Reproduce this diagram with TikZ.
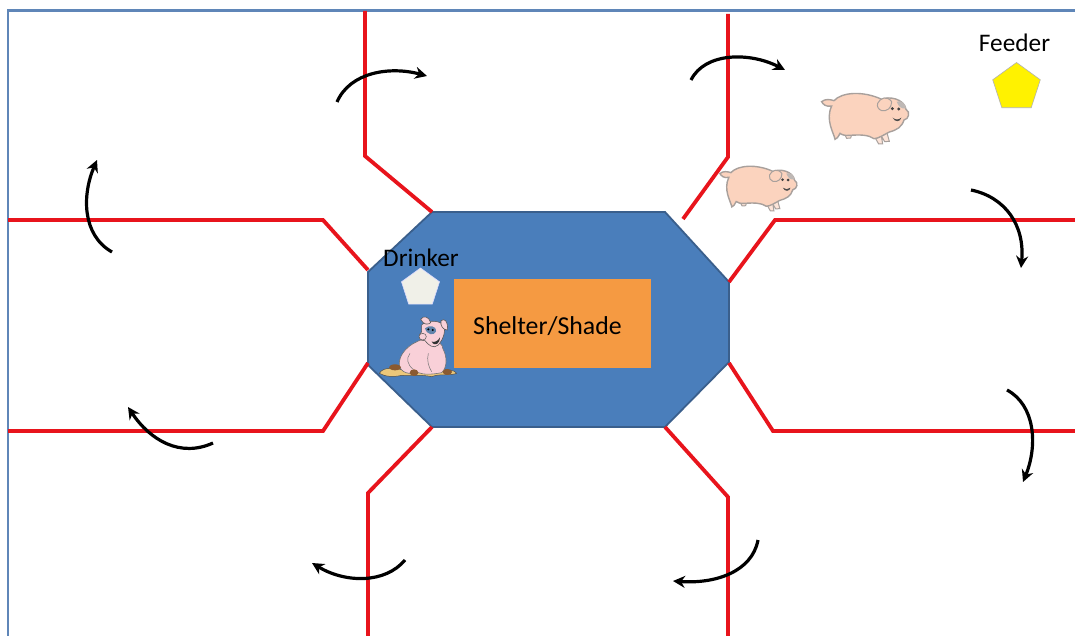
\documentclass[tikz,border=0pt]{standalone}
\usepackage{fontspec}
\setmainfont{Carlito}
\usetikzlibrary{arrows.meta,shapes.geometric}
\definecolor{frameblue}{HTML}{5F86B8}
\definecolor{penblue}{HTML}{4A7EBB}
\definecolor{penedge}{HTML}{3A5F8C}
\definecolor{shelter}{HTML}{F59A42}
\definecolor{fence}{HTML}{E8141C}
\definecolor{pigskin}{HTML}{FBD3BE}
\definecolor{pigedge}{HTML}{A8A09C}
\definecolor{pinkpig}{HTML}{F9D0D8}
\definecolor{mud}{HTML}{EBC77A}
\definecolor{hoof}{HTML}{8A5A30}
\definecolor{drinkerfill}{HTML}{F0F0E8}
\tikzset{
  frameline/.style={draw=frameblue,line width=2.2pt},
  fenceline/.style={draw=fence,line width=3.8pt,line join=miter},
  turn/.style={draw=black,line width=3.2pt,-{Stealth[length=12pt,width=12pt]}},
  label/.style={font=\fontsize{25.8}{28}\selectfont,inner sep=0pt,text=black},
  smalllabel/.style={font=\fontsize{25.3}{28}\selectfont,inner sep=0pt,text=black},
  pent/.style={regular polygon,regular polygon sides=5,inner sep=0pt}
}
% walking pig, drawn in a local frame 3 units per reference pixel
\newcommand{\walkpig}[3]{%
 \begin{scope}[shift={(#1,#2)},x=#3/3*1pt,y=-#3/3*1pt]
  \fill[pigskin!60!white,draw=pigedge,line width=1pt] (518,190) -- (536,222) -- (548,222) -- (544,198) -- (554,215) -- (568,214) -- (560,185) -- cycle;
  \fill[pigskin!60!white,draw=pigedge,line width=1pt] (432,190) -- (440,205) -- (452,204) -- (456,190) -- cycle;
  \fill[pigskin,draw=pigedge,line width=1.4pt] (395,108) .. controls (378,112) and (368,102) .. (365,95) .. controls (375,86) and (390,88) .. (402,92)
    .. controls (425,66) and (490,62) .. (545,88) .. controls (565,78) and (612,85) .. (618,118)
    .. controls (632,126) and (626,148) .. (612,150) .. controls (605,172) and (590,180) .. (568,186)
    .. controls (552,194) and (535,206) .. (522,206) .. controls (505,194) and (480,194) .. (450,196)
    .. controls (435,198) and (425,194) .. (420,190) .. controls (415,200) and (410,208) .. (405,208)
    .. controls (402,190) and (375,150) .. (395,108) -- cycle;
  \fill[pigskin,draw=pigedge,line width=1pt] (533,100) .. controls (540,85) and (560,75) .. (575,95) .. controls (575,115) and (560,125) .. (545,122) .. controls (535,118) and (530,110) .. (533,100) -- cycle;
  \fill[pigedge!75!white] (590,95) .. controls (605,90) and (615,100) .. (618,115) .. controls (605,118) and (595,110) .. (590,95) -- cycle;
  \fill[black!75] (577,116) circle[radius=5] (596,117) circle[radius=5];
  \fill[black!70] (578,143) .. controls (586,150) and (596,150) .. (604,143) .. controls (602,156) and (584,158) .. (578,143) -- cycle;
 \end{scope}}
\begin{document}
\begin{tikzpicture}[x=1pt,y=-1pt]
\useasboundingbox (0,0) rectangle (1075,636);
\fill[white] (0,0) rectangle (1075,636);
% paddock frame
\draw[frameline] (8,636) -- (8,10.5) -- (1075,10.5);
% central pen
\fill[penblue,draw=penedge,line width=1.8pt] (432,212) -- (665,212) -- (729,282) -- (729,362) -- (665,427) -- (432,427) -- (368,365) -- (368,272) -- cycle;
\node[draw=none,fill=shelter,minimum width=197pt,minimum height=89pt,inner sep=0pt,anchor=north west] (shelter) at (454,279) {};
\node[label,anchor=west] (shelterlabel) at (473,326) {Shelter/Shade};
% fences
\draw[fenceline] (365,11) -- (365,156) -- (432,212);
\draw[fenceline] (728,14) -- (728,157) -- (683,219);
\draw[fenceline] (1075,220) -- (775,220) -- (729,282);
\draw[fenceline] (1075,431) -- (773,431) -- (729,363);
\draw[fenceline] (728,636) -- (728,497) -- (665,427);
\draw[fenceline] (368,636) -- (368,493) -- (432,427);
\draw[fenceline] (8,431) -- (323,431) -- (368,363);
\draw[fenceline] (8,220) -- (323,220) -- (368,270);
% rotation arrows
\draw[turn] (337,102) .. controls (350,72) and (390,66) .. (427,76);
\draw[turn] (691,80) .. controls (705,52) and (750,52) .. (785,70);
\draw[turn] (971,190) .. controls (1005,197) and (1025,225) .. (1021,268);
\draw[turn] (1007,390) .. controls (1035,405) and (1038,445) .. (1023,482);
\draw[turn] (758,540) .. controls (752,572) and (715,584) .. (673,581);
\draw[turn] (405,560) .. controls (385,584) and (345,583) .. (312,563);
\draw[turn] (213,443) .. controls (180,458) and (150,440) .. (128,407);
\draw[turn] (112,252) .. controls (82,235) and (82,195) .. (97,160);
% feeder and drinker
\node[pent,fill=yellow,draw=black!30,line width=.6pt,minimum size=50pt] (feeder) at (1016.5,87.5) {};
\node[smalllabel] (feederlabel) at (1014.5,43) {Feeder};
\node[pent,fill=drinkerfill,draw=white!85!blue,line width=.6pt,minimum size=40pt] (drinker) at (420.5,288) {};
\node[smalllabel] (drinkerlabel) at (421,258) {Drinker};
% walking pigs
\walkpig{700}{70}{1}
\walkpig{612.3}{145.5}{0.885}
% sitting pig in the mud
\begin{scope}[shift={(360,230)},x=1/3*1pt,y=-1/3*1pt]
 \fill[mud,draw=black!70,line width=.5pt] (58,430) .. controls (70,408) and (110,415) .. (130,420) -- (240,418) .. controls (260,418) and (285,420) .. (290,430) .. controls (270,438) and (240,430) .. (215,440) .. controls (180,432) and (150,440) .. (125,436) .. controls (100,442) and (75,440) .. (58,430) -- cycle;
 \fill[pinkpig,draw=black!55,line width=.6pt] (118,405) .. controls (115,375) and (145,340) .. (190,328) .. controls (205,325) and (250,335) .. (248,355) .. controls (262,380) and (262,412) .. (245,428) .. controls (215,434) and (190,434) .. (175,428) .. controls (150,434) and (122,430) .. (118,405) -- cycle;
 \draw[black!55,line width=.5pt] (150,370) .. controls (138,385) and (142,405) .. (160,418);
 \draw[black!55,line width=.5pt] (205,370) .. controls (200,390) and (205,410) .. (215,425);
 \fill[pinkpig,draw=black!65,line width=.6pt] (185,285) .. controls (195,272) and (235,268) .. (250,285) .. controls (258,300) and (252,325) .. (235,345) .. controls (220,358) and (205,345) .. (195,332) .. controls (178,335) and (172,315) .. (185,305) -- cycle;
 \fill[pinkpig,draw=black!65,line width=.6pt] (182,268) .. controls (190,255) and (208,260) .. (212,278) .. controls (205,285) and (190,285) .. (182,268) -- cycle;
 \fill[pinkpig,draw=black!65,line width=.6pt] (243,272) .. controls (252,265) and (265,270) .. (262,300) .. controls (250,300) and (240,288) .. (243,272) -- cycle;
 \fill[penblue!80!black!80!white] (195,295) .. controls (205,285) and (230,285) .. (228,305) .. controls (222,318) and (200,315) .. (195,295) -- cycle;
 \fill[black] (205,298) circle[radius=3.5] (218,300) circle[radius=3.5];
 \fill[pinkpig,draw=black!65,line width=.5pt] (188,320) ellipse[x radius=11,y radius=10];
 \fill[black!80] (215,335) .. controls (225,338) and (235,332) .. (240,322) .. controls (240,340) and (225,352) .. (215,335) -- cycle;
 \fill[hoof] (105,412) ellipse[x radius=18,y radius=9] (162,428) ellipse[x radius=13,y radius=10] (262,426) ellipse[x radius=14,y radius=9];
\end{scope}
\end{tikzpicture}
\end{document}
